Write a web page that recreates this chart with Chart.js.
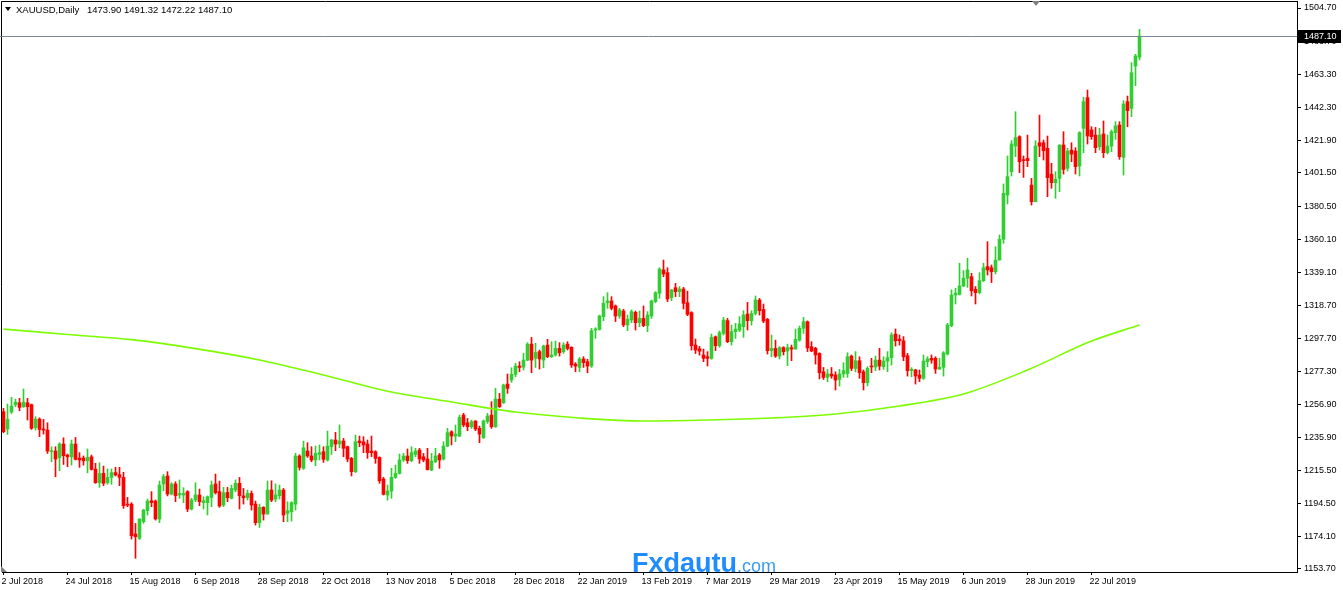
<!DOCTYPE html>
<html><head><meta charset="utf-8">
<script src="https://cdn.jsdelivr.net/npm/chart.js@4/dist/chart.umd.min.js"></script>
<style>html,body{margin:0;padding:0;background:#fff;overflow:hidden}#wrap{width:1343px;height:590px;position:relative}</style>
</head><body><div id="wrap"><canvas id="c" width="1343" height="590"></canvas></div>
<script>
const symbolName = "XAUUSD,Daily";
const openPrices = [
1252.1,1241.3,1251.9,1256.5,1257.7,1255.2,1257.7,1256.5,1242.1,1247.5,
1241.3,1240.6,1227.1,1227.5,1223.3,1231.9,1225.0,1223.9,1231.9,1223.1,
1223.1,1221.4,1223.9,1216.2,1207.7,1213.5,1207.7,1211.0,1214.0,1212.7,
1211.0,1194.3,1194.3,1175.6,1172.9,1183.3,1190.2,1196.4,1196.2,1185.0,
1206.9,1211.9,1200.6,1206.9,1200.0,1200.0,1202.1,1191.2,1196.9,1200.0,
1195.2,1195.2,1198.5,1206.9,1202.1,1193.7,1201.6,1197.9,1203.1,1207.3,
1199.4,1198.3,1201.0,1194.3,1182.7,1192.3,1188.1,1203.1,1197.5,1199.6,
1203.1,1188.5,1189.5,1194.3,1224.4,1216.7,1227.5,1224.4,1221.9,1225.4,
1227.1,1221.9,1230.2,1234.4,1231.9,1233.8,1230.2,1222.9,1214.6,1233.8,
1233.3,1231.9,1227.5,1227.1,1223.5,1210.0,1200.0,1202.5,1211.0,1213.5,
1221.9,1224.4,1221.5,1225.4,1228.1,1223.9,1222.5,1215.6,1220.8,1225.0,
1222.5,1230.6,1239.6,1236.9,1236.9,1250.0,1245.2,1242.7,1246.3,1241.7,
1235.8,1245.9,1250.0,1242.7,1260.0,1257.7,1269.4,1271.9,1275.5,1280.7,
1280.0,1284.4,1294.4,1285.5,1289.7,1284.4,1293.8,1286.5,1287.6,1291.7,
1289.7,1294.4,1292.4,1281.9,1279.8,1285.1,1283.4,1280.7,1303.2,1303.6,
1311.6,1320.3,1321.4,1318.3,1312.0,1315.1,1306.4,1309.5,1314.3,1307.8,
1310.5,1306.0,1312.0,1321.0,1326.2,1340.8,1339.1,1323.5,1329.7,1327.2,
1328.9,1320.3,1314.1,1293.8,1291.5,1287.6,1286.5,1285.5,1299.0,1293.4,
1301.1,1309.1,1295.9,1302.2,1303.2,1305.3,1313.2,1309.1,1313.6,1322.0,
1316.1,1309.9,1290.3,1291.7,1286.9,1292.2,1290.1,1292.2,1291.3,1296.9,
1304.3,1308.4,1292.8,1291.8,1288.6,1277.1,1273.6,1275.7,1275.1,1272.3,
1275.7,1276.0,1286.9,1279.2,1284.0,1277.1,1270.3,1280.7,1280.1,1284.4,
1280.3,1283.8,1285.9,1300.7,1297.6,1296.5,1287.1,1277.8,1278.2,1275.1,
1273.0,1283.4,1285.5,1285.5,1278.8,1279.9,1288.2,1305.9,1325.1,1325.5,
1330.8,1335.6,1336.6,1328.7,1326.6,1334.1,1342.9,1342.2,1339.7,1347.0,
1360.0,1387.7,1402.3,1418.3,1424.2,1409.6,1410.6,1393.9,1383.5,1420.4,
1420.4,1416.9,1400.8,1395.4,1398.1,1419.0,1404.4,1415.8,1415.2,1405.8,
1429.4,1448.6,1428.4,1425.2,1417.9,1425.9,1414.2,1418.3,1426.7,1431.5,
1411.3,1446.1,1441.9,1468.4,1473.90];
const highPrices = [
1254.2,1256.9,1261.1,1260.0,1260.5,1266.3,1260.5,1256.9,1249.0,1248.3,
1247.3,1245.2,1230.2,1230.2,1232.7,1235.8,1225.6,1234.4,1236.0,1226.5,
1224.4,1228.8,1225.0,1219.8,1220.2,1218.1,1216.3,1216.3,1217.3,1217.3,
1214.2,1198.5,1195.2,1182.2,1185.0,1191.0,1197.5,1202.1,1196.9,1208.7,
1212.9,1214.6,1207.7,1208.3,1209.4,1204.6,1202.7,1197.9,1207.7,1203.7,
1198.9,1199.4,1208.7,1213.1,1208.7,1204.8,1204.8,1206.2,1209.4,1211.0,
1204.1,1203.1,1202.5,1196.2,1194.3,1192.7,1208.7,1208.9,1206.9,1206.2,
1204.1,1195.8,1195.8,1226.1,1225.2,1233.7,1232.7,1230.2,1230.6,1231.3,
1230.2,1240.0,1234.8,1239.2,1243.8,1235.4,1230.6,1223.5,1237.5,1236.9,
1236.5,1234.4,1236.9,1227.7,1223.9,1211.0,1206.2,1216.7,1218.7,1225.6,
1226.0,1228.8,1230.2,1229.2,1229.2,1226.0,1229.2,1226.0,1229.2,1226.0,
1233.3,1241.7,1240.2,1243.8,1250.0,1251.1,1247.9,1246.9,1246.5,1243.1,
1246.9,1251.1,1258.4,1266.7,1263.6,1269.4,1275.7,1279.6,1282.4,1283.4,
1288.6,1295.3,1298.6,1294.9,1290.7,1293.8,1297.4,1295.9,1296.3,1295.3,
1295.3,1295.9,1292.8,1282.8,1286.1,1286.5,1284.9,1304.3,1304.7,1312.5,
1324.1,1326.6,1324.1,1318.9,1316.8,1316.2,1312.6,1315.8,1315.1,1315.1,
1318.3,1314.7,1322.0,1327.2,1342.2,1347.0,1342.2,1328.7,1332.4,1330.4,
1329.9,1327.6,1314.7,1297.6,1293.0,1291.3,1289.7,1300.7,1299.5,1302.6,
1311.1,1310.5,1306.3,1307.4,1311.6,1315.3,1320.5,1315.3,1324.5,1323.0,
1319.5,1310.5,1300.1,1296.9,1292.8,1292.8,1294.4,1293.8,1303.8,1305.7,
1311.1,1308.9,1295.9,1292.4,1289.0,1279.8,1278.6,1279.8,1277.1,1278.6,
1282.8,1289.0,1287.6,1289.7,1286.5,1278.2,1280.3,1285.5,1286.9,1291.8,
1286.5,1289.7,1301.5,1303.9,1300.1,1299.1,1288.6,1279.7,1278.6,1278.2,
1287.6,1286.5,1287.6,1286.5,1285.5,1289.7,1307.4,1328.3,1329.3,1345.0,
1340.4,1348.1,1338.7,1330.4,1339.1,1345.0,1358.5,1343.9,1355.4,1362.7,
1394.6,1412.1,1421.7,1439.8,1424.8,1412.1,1425.2,1398.1,1421.7,1437.7,
1422.1,1424.6,1407.5,1402.3,1419.0,1427.3,1416.9,1420.4,1417.3,1427.3,
1448.8,1453.4,1430.4,1430.0,1429.4,1434.0,1425.2,1428.4,1433.6,1433.6,
1446.7,1449.6,1470.5,1475.7,1491.32];
const lowPrices = [
1239.0,1237.9,1251.0,1255.2,1252.7,1254.8,1246.9,1241.0,1240.6,1236.5,
1238.1,1226.0,1220.8,1211.4,1215.2,1219.1,1217.7,1218.7,1221.9,1217.3,
1218.7,1213.9,1215.6,1207.3,1204.8,1205.8,1206.7,1206.7,1211.9,1205.8,
1191.6,1192.7,1172.4,1160.4,1172.2,1182.3,1187.5,1192.7,1184.3,1182.7,
1202.7,1199.4,1200.0,1195.8,1197.9,1195.2,1189.6,1190.6,1195.8,1193.3,
1191.2,1187.5,1192.7,1200.6,1192.3,1192.7,1195.8,1197.5,1202.0,1191.2,
1194.3,1196.8,1190.6,1181.2,1179.7,1184.3,1187.9,1195.8,1195.8,1197.5,
1183.3,1183.3,1183.7,1190.6,1215.6,1216.0,1223.5,1220.8,1218.3,1221.9,
1220.4,1221.2,1225.4,1227.7,1229.6,1223.9,1220.8,1211.9,1214.0,1230.2,
1226.5,1222.9,1224.0,1219.8,1207.3,1200.0,1196.8,1197.9,1210.4,1213.1,
1221.0,1219.8,1220.8,1223.9,1219.8,1220.8,1215.6,1215.2,1220.2,1216.7,
1221.9,1230.2,1231.3,1233.3,1236.5,1242.7,1240.2,1241.7,1240.2,1232.7,
1235.4,1244.8,1241.7,1242.3,1254.8,1257.3,1263.6,1270.5,1274.0,1277.1,
1278.2,1284.0,1276.5,1279.8,1278.8,1279.6,1285.9,1286.0,1286.9,1286.9,
1288.6,1290.7,1279.8,1277.1,1277.1,1279.8,1276.5,1279.8,1298.0,1303.2,
1309.1,1316.8,1315.8,1308.5,1310.5,1305.3,1302.8,1307.8,1303.2,1305.3,
1305.3,1302.2,1310.5,1320.3,1323.1,1336.6,1321.0,1321.6,1324.1,1324.1,
1316.4,1312.2,1290.7,1288.5,1287.5,1283.4,1280.7,1284.9,1290.3,1292.4,
1300.1,1295.3,1293.8,1298.0,1302.2,1298.6,1303.2,1306.3,1312.6,1312.6,
1307.8,1288.2,1286.5,1286.1,1285.1,1287.6,1280.9,1284.0,1291.3,1296.3,
1301.1,1289.7,1289.7,1281.9,1272.6,1272.3,1270.9,1273.0,1265.7,1268.2,
1273.6,1273.6,1277.8,1277.1,1273.0,1265.7,1268.2,1276.5,1277.8,1278.2,
1278.6,1277.1,1281.3,1293.2,1293.8,1284.0,1274.4,1274.0,1269.4,1270.9,
1272.3,1280.3,1282.4,1276.1,1278.6,1274.4,1287.6,1305.3,1319.5,1325.1,
1330.3,1329.9,1324.5,1319.5,1325.8,1333.5,1337.6,1332.9,1338.3,1347.0,
1357.5,1382.1,1399.6,1411.7,1401.7,1398.7,1405.4,1381.4,1383.5,1411.7,
1409.6,1386.6,1391.9,1385.6,1389.8,1400.8,1402.7,1408.5,1400.8,1399.6,
1414.2,1419.6,1422.5,1414.2,1415.8,1411.1,1413.3,1414.8,1422.5,1410.0,
1400.2,1430.4,1436.7,1456.1,1472.22];
const closePrices = [
1239.6,1247.3,1255.6,1258.1,1254.8,1258.1,1255.2,1241.7,1247.5,1241.0,
1240.6,1227.5,1227.7,1222.5,1231.9,1224.6,1223.9,1231.9,1222.3,1221.9,
1221.4,1223.5,1216.0,1207.7,1213.5,1207.3,1211.0,1214.0,1212.5,1211.0,
1193.3,1193.7,1174.5,1173.9,1185.0,1190.6,1196.2,1195.2,1185.0,1206.2,
1211.5,1200.6,1206.9,1199.6,1201.0,1201.0,1191.2,1196.9,1200.0,1195.8,
1196.4,1198.9,1206.2,1201.4,1193.1,1201.4,1198.3,1204.1,1207.3,1199.6,
1198.3,1201.0,1193.7,1182.7,1192.3,1188.1,1203.1,1196.8,1200.0,1203.1,
1187.5,1190.2,1195.2,1224.4,1217.3,1229.5,1224.4,1221.9,1226.0,1226.5,
1222.3,1230.6,1234.4,1231.9,1233.8,1229.2,1222.5,1214.6,1233.3,1232.7,
1231.3,1226.5,1226.5,1222.9,1208.9,1200.4,1202.5,1211.0,1213.5,1221.9,
1224.4,1221.5,1226.5,1227.5,1222.5,1221.9,1215.9,1221.2,1224.4,1221.9,
1230.6,1239.0,1236.9,1238.1,1248.6,1243.8,1242.7,1245.9,1241.3,1238.1,
1246.3,1249.4,1242.7,1260.0,1255.2,1268.8,1266.7,1275.5,1280.7,1279.8,
1284.4,1294.4,1284.4,1289.2,1285.1,1293.2,1286.5,1287.6,1291.7,1289.0,
1293.8,1291.7,1281.3,1280.7,1285.1,1282.8,1280.7,1302.8,1303.6,1312.0,
1319.9,1321.4,1316.8,1312.0,1315.8,1306.4,1309.9,1314.7,1307.8,1310.5,
1306.0,1312.6,1321.4,1326.6,1341.4,1338.3,1322.6,1328.3,1327.2,1328.9,
1319.9,1313.0,1293.4,1290.7,1290.0,1285.5,1285.5,1298.6,1293.4,1301.5,
1309.5,1295.9,1302.2,1303.8,1307.0,1312.6,1309.1,1313.6,1322.0,1315.3,
1308.8,1290.3,1291.7,1286.9,1292.2,1289.7,1292.2,1291.3,1297.4,1304.3,
1308.4,1292.0,1290.1,1287.6,1276.5,1273.6,1275.7,1274.4,1271.9,1275.7,
1277.8,1286.5,1279.2,1284.0,1276.5,1270.3,1279.2,1280.1,1284.4,1280.7,
1283.8,1285.9,1300.1,1296.5,1296.5,1286.5,1277.8,1278.6,1274.4,1273.0,
1283.8,1285.1,1284.4,1278.8,1279.9,1289.0,1306.4,1325.1,1326.2,1330.8,
1335.6,1340.8,1327.8,1326.6,1334.1,1342.2,1340.8,1339.7,1347.0,1360.0,
1388.8,1399.2,1419.6,1423.6,1408.5,1409.2,1409.2,1383.5,1418.3,1418.3,
1415.4,1398.5,1395.4,1397.5,1419.0,1403.7,1415.2,1413.3,1405.4,1426.7,
1446.1,1424.6,1424.2,1417.3,1425.2,1414.2,1418.3,1427.3,1430.9,1411.7,
1444.6,1440.5,1464.2,1474.7,1487.10];
// 200-day moving average, read at bar indices
const maIndex = [0,16,32,48,64,80,96,112,128,144,160,176,192,208,224,240,256,272,284];
const maValues = [1303.8,1300.4,1297.2,1291.6,1284.5,1275.1,1264.9,1258.2,1251.9,1248.2,1246.3,1246.9,1248.2,1250.7,1255.7,1263.2,1278.2,1296.3,1306.4];
const xTickLabels = ["2 Jul 2018","24 Jul 2018","15 Aug 2018","6 Sep 2018","28 Sep 2018","22 Oct 2018","13 Nov 2018","5 Dec 2018","28 Dec 2018","22 Jan 2019","13 Feb 2019","7 Mar 2019","29 Mar 2019","23 Apr 2019","15 May 2019","6 Jun 2019","28 Jun 2019","22 Jul 2019"];
const xTickStep = 16;
const yTickValues = [1153.7,1174.1,1194.5,1215.5,1235.9,1256.9,1277.3,1297.7,1318.7,1339.1,1360.1,1380.5,1401.5,1421.9,1442.3,1463.3,1483.7,1504.7];

const BULL = '#32CD32', BEAR = '#FF0000', MA_COLOR = '#7CFC00';
const FONT = 'Liberation Sans, Arial, sans-serif';
const n = closePrices.length;
const last = n - 1;
const wickData = [], bodyData = [], candleColors = [];
for (let i = 0; i < n; i++) {
  const o = openPrices[i], c = closePrices[i];
  wickData.push({x: i, y: [lowPrices[i], highPrices[i]]});
  bodyData.push({x: i, y: [Math.min(o, c), Math.max(o, c)]});
  candleColors.push(c >= o ? BULL : BEAR);
}

const overlay = {
  id: 'overlay',
  afterDraw(chart) {
    const ctx = chart.ctx, a = chart.chartArea, y = chart.scales.y;
    ctx.save();
    // frame
    ctx.strokeStyle = '#000'; ctx.lineWidth = 1;
    ctx.beginPath();
    ctx.moveTo(a.left - 0.5, a.bottom); ctx.lineTo(a.left - 0.5, a.top + 0.5);
    ctx.lineTo(a.right, a.top + 0.5);
    ctx.stroke();
    // current price line
    const py = Math.round(y.getPixelForValue(closePrices[last])) + 0.5;
    ctx.strokeStyle = '#778899';
    ctx.beginPath(); ctx.moveTo(0, py); ctx.lineTo(a.right, py); ctx.stroke();
    // price label box
    ctx.fillStyle = '#000';
    ctx.fillRect(a.right, py - 6.5, 44, 13);
    ctx.fillStyle = '#fff';
    ctx.font = '9px ' + FONT;
    ctx.textBaseline = 'middle'; ctx.textAlign = 'left';
    ctx.fillText(closePrices[last].toFixed(2), a.right + 7, py + 0.5);
    // header
    ctx.fillStyle = '#000';
    ctx.beginPath(); ctx.moveTo(5, 7); ctx.lineTo(11, 7); ctx.lineTo(8, 11); ctx.closePath(); ctx.fill();
    ctx.font = '9.5px ' + FONT;
    ctx.fillText(symbolName, 16, 10);
    ctx.fillText(openPrices[last].toFixed(2) + ' ' + highPrices[last].toFixed(2) + ' ' + lowPrices[last].toFixed(2) + ' ' + closePrices[last].toFixed(2), 87, 10);
    // shift markers
    ctx.fillStyle = '#808080';
    ctx.beginPath(); ctx.moveTo(1032, 1); ctx.lineTo(1040, 1); ctx.lineTo(1036, 6); ctx.closePath(); ctx.fill();
    ctx.beginPath(); ctx.moveTo(1, 566); ctx.lineTo(7, 572); ctx.lineTo(1, 572); ctx.closePath(); ctx.fill();
    // watermark
    ctx.textBaseline = 'alphabetic';
    ctx.font = 'bold 27px ' + FONT;
    ctx.fillStyle = '#1E8CFF';
    ctx.fillText('Fxdautu', 632, 572);
    const w = ctx.measureText('Fxdautu').width;
    ctx.font = '18px ' + FONT;
    ctx.fillStyle = '#3C9BF0';
    ctx.fillText('.com', 632 + w, 572);
    ctx.restore();
  }
};

new Chart(document.getElementById('c'), {
  type: 'bar',
  data: {
    datasets: [
      {type: 'line', data: maIndex.map((x, k) => ({x: x, y: maValues[k]})), borderColor: MA_COLOR, borderWidth: 1.6, pointRadius: 0, cubicInterpolationMode: 'monotone', fill: false, order: 0},
      {data: bodyData, backgroundColor: candleColors, barThickness: 3, grouped: false, minBarLength: 1, borderWidth: 0, order: 1},
      {data: wickData, backgroundColor: candleColors, barThickness: 1, grouped: false, borderWidth: 0, order: 2}
    ]
  },
  options: {
    responsive: false, animation: false, devicePixelRatio: 1,
    layout: {padding: {left: 2, top: 1, right: 0, bottom: 0}},
    plugins: {legend: {display: false}, tooltip: {enabled: false}},
    scales: {
      x: {
        type: 'linear', min: -0.375, max: 323.375, offset: false,
        grid: {display: true, drawOnChartArea: false, tickLength: 3, color: '#000', offset: false},
        border: {display: true, color: '#000'},
        ticks: {align: 'start', maxRotation: 0, autoSkip: false, padding: 1, labelOffset: -2, color: '#000',
          font: {family: FONT, size: 9}, callback: (v) => xTickLabels[Math.round(v / xTickStep)]},
        afterBuildTicks: (s) => { s.ticks = xTickLabels.map((_, k) => ({value: k * xTickStep})); },
        afterFit: (s) => { s.height = 18; s.paddingLeft = 0; s.paddingRight = 0; }
      },
      y: {
        position: 'right', min: 1151.82, max: 1509.08, beginAtZero: false,
        grid: {display: true, drawOnChartArea: false, tickLength: 4, color: '#000'},
        border: {display: true, color: '#000'},
        ticks: {padding: 3, color: '#000', autoSkip: false, font: {family: FONT, size: 9}, callback: (v) => Number(v).toFixed(2)},
        afterBuildTicks: (s) => { s.ticks = yTickValues.map(v => ({value: v})); },
        afterFit: (s) => { s.width = 46; s.paddingTop = 0; s.paddingBottom = 0; }
      }
    }
  },
  plugins: [overlay]
});
</script></body></html>
